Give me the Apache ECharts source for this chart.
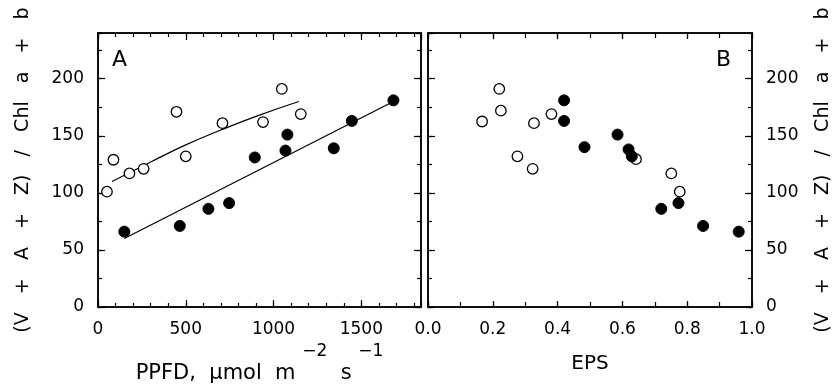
<!DOCTYPE html>
<html>
<head>
<meta charset="utf-8">
<script src="https://cdn.jsdelivr.net/npm/echarts@6/dist/echarts.min.js"></script>
<style>html,body{margin:0;padding:0;background:#fff;}#c{width:833px;height:386px;}</style>
</head>
<body>
<div id="c"></div>
<script>
// Panel A: PPFD vs (V+A+Z)/Chl a+b
const ppfdOpen   = [51, 88, 179, 260, 447, 500, 709, 940, 1047, 1155];
const ratioOpenA = [101, 129, 117, 121, 171, 132, 161, 162, 191, 169];
const ppfdFilled   = [150, 466, 629, 747, 893, 1068, 1079, 1343, 1446, 1683];
const ratioFilledA = [66, 71, 86, 91, 131, 137, 151, 139, 163, 181];
// fitted curves
const fitOpenX = [80, 300, 500, 700, 900, 1144];
const fitOpenY = [110, 127, 142, 155, 167, 180];
const fitFilledX = [150, 1683];
const fitFilledY = [60, 180];
// Panel B: EPS vs (V+A+Z)/Chl a+b
const epsOpen    = [0.167, 0.220, 0.225, 0.276, 0.323, 0.327, 0.381, 0.642, 0.751, 0.777];
const ratioOpenB = [162.5, 191, 172, 132, 121, 161, 169, 129.5, 117, 101];
const epsFilled    = [0.420, 0.420, 0.483, 0.585, 0.619, 0.629, 0.720, 0.773, 0.849, 0.959];
const ratioFilledB = [181, 163, 140, 151, 138, 132, 86, 91, 71, 66];
// axis texts
const yTitle = '(V   +   A   +   Z)   /   Chl   a   +   b';
const xTitleA = '{a|PPFD,  μmol  m }{s|−2}{a|  s }{s|−1}';
const xTitleB = 'EPS';
const panelLabels = ['A', 'B'];

const FONT = 'DejaVu Sans';
const zip = (xs, ys) => xs.map((x, i) => [x, ys[i]]);

function ax(gridIndex, position, min, max, interval, tickLen, showLabel, extra) {
  return Object.assign({
    type: 'value', gridIndex, position, min, max, interval,
    axisLine: {show: true, onZero: false, lineStyle: {color: '#000', width: 1.5}},
    axisTick: {show: true, inside: true, length: tickLen, lineStyle: {color: '#000', width: 1.2}},
    axisLabel: {show: showLabel, color: '#000', fontFamily: FONT, fontSize: 17, margin: 14,
                showMaxLabel: false, formatter: v => String(v)},
    splitLine: {show: false}
  }, extra || {});
}

const xAxis = [
  ax(0, 'bottom', 0, 1840, 500, 7, true, {
    name: xTitleA, nameLocation: 'middle', nameGap: 33,
    nameTextStyle: {color: '#000', fontFamily: FONT,
      rich: {
        a: {fontFamily: FONT, fontSize: 21, color: '#000', lineHeight: 41, verticalAlign: 'bottom'},
        s: {fontFamily: FONT, fontSize: 17, color: '#000', lineHeight: 16, verticalAlign: 'top'}
      }}
  }),
  ax(0, 'bottom', 0, 1840, 100, 4, false),
  ax(0, 'top', 0, 1840, 500, 7, false),
  ax(0, 'top', 0, 1840, 100, 4, false),
  ax(1, 'bottom', 0, 1, 0.2, 6, true, {
    name: xTitleB, nameLocation: 'middle', nameGap: 47,
    nameTextStyle: {color: '#000', fontFamily: FONT, fontSize: 20}
  }),
  ax(1, 'bottom', 0, 1, 0.1, 5, false),
  ax(1, 'top', 0, 1, 0.2, 6, false),
  ax(1, 'top', 0, 1, 0.1, 5, false)
];
xAxis[4].axisLabel.showMaxLabel = true;
xAxis[4].axisLabel.formatter = v => v.toFixed(1);

const yAxis = [
  ax(0, 'left', 0, 240, 50, 7, true, {
    name: yTitle, nameLocation: 'middle', nameGap: 65, nameRotate: 90,
    nameTextStyle: {color: '#000', fontFamily: FONT, fontSize: 19}
  }),
  ax(0, 'left', 0, 240, 25, 4, false),
  ax(0, 'right', 0, 240, 50, 7, false),
  ax(0, 'right', 0, 240, 25, 4, false),
  ax(1, 'right', 0, 240, 50, 7, true, {
    name: yTitle, nameLocation: 'middle', nameGap: 62, nameRotate: 90,
    nameTextStyle: {color: '#000', fontFamily: FONT, fontSize: 19}
  }),
  ax(1, 'right', 0, 240, 25, 4, false),
  ax(1, 'left', 0, 240, 50, 7, false),
  ax(1, 'left', 0, 240, 25, 4, false)
];

const openStyle = {color: '#fff', borderColor: '#000', borderWidth: 1.3, opacity: 1};
const fillStyle = {color: '#000', borderColor: '#000', borderWidth: 1, opacity: 1};

const option = {
  animation: false,
  backgroundColor: '#fff',
  grid: [
    {left: 98, top: 33, width: 323, height: 274, containLabel: false, outerBoundsMode: 'none'},
    {left: 428, top: 33, width: 324, height: 274, containLabel: false, outerBoundsMode: 'none'}
  ],
  xAxis, yAxis,
  series: [
    {type: 'line', xAxisIndex: 0, yAxisIndex: 0, data: zip(fitOpenX, fitOpenY), smooth: true,
     showSymbol: false, symbol: 'none', lineStyle: {color: '#000', width: 1.2}, z: 3},
    {type: 'line', xAxisIndex: 0, yAxisIndex: 0, data: zip(fitFilledX, fitFilledY),
     showSymbol: false, symbol: 'none', lineStyle: {color: '#000', width: 1.2}, z: 3},
    {type: 'scatter', xAxisIndex: 0, yAxisIndex: 0, data: zip(ppfdOpen, ratioOpenA),
     symbol: 'circle', symbolSize: 10.5, itemStyle: openStyle, z: 4},
    {type: 'scatter', xAxisIndex: 0, yAxisIndex: 0, data: zip(ppfdFilled, ratioFilledA),
     symbol: 'circle', symbolSize: 11, itemStyle: fillStyle, z: 5},
    {type: 'scatter', xAxisIndex: 4, yAxisIndex: 4, data: zip(epsOpen, ratioOpenB),
     symbol: 'circle', symbolSize: 10.5, itemStyle: openStyle, z: 4},
    {type: 'scatter', xAxisIndex: 4, yAxisIndex: 4, data: zip(epsFilled, ratioFilledB),
     symbol: 'circle', symbolSize: 11, itemStyle: fillStyle, z: 5}
  ],
  graphic: [
    {type: 'text', left: 112, top: 49, style: {text: panelLabels[0], font: '22px "DejaVu Sans"', fill: '#000'}},
    {type: 'text', left: 716, top: 49, style: {text: panelLabels[1], font: '22px "DejaVu Sans"', fill: '#000'}}
  ]
};

const chart = echarts.init(document.getElementById('c'), null, {renderer: 'canvas'});
chart.setOption(option);
</script>
</body>
</html>
